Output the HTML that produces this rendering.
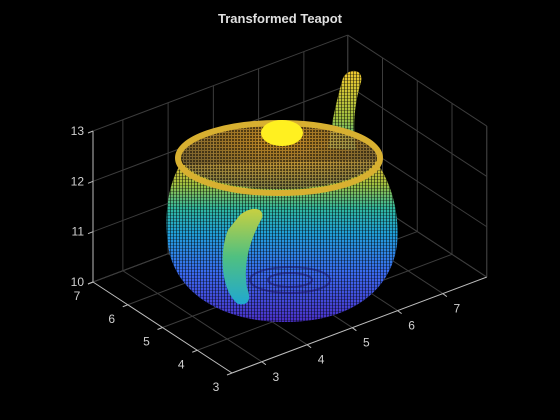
<!DOCTYPE html>
<html><head><meta charset="utf-8"><style>
html,body{margin:0;padding:0;background:#000;}
svg{display:block;font-family:"Liberation Sans",sans-serif;}
</style></head><body>
<svg id="chart" width="560" height="420" viewBox="0 0 560 420">
<defs>
<linearGradient id="bodyGrad" x1="0" y1="0" x2="0" y2="1">
<stop offset="0" stop-color="#e8b830"/><stop offset="0.15" stop-color="#a0c040"/>
<stop offset="0.3" stop-color="#30b8a0"/><stop offset="0.45" stop-color="#20a0d8"/>
<stop offset="0.7" stop-color="#3a6af0"/><stop offset="1" stop-color="#4a30c8"/>
</linearGradient>
<linearGradient id="handleGrad" x1="0" y1="0" x2="0" y2="1">
<stop offset="0" stop-color="#c8d040"/><stop offset="0.5" stop-color="#50c080"/><stop offset="1" stop-color="#20a8d0"/>
</linearGradient>
<linearGradient id="spoutGrad" x1="0" y1="0" x2="0" y2="1">
<stop offset="0" stop-color="#f0c830"/><stop offset="0.6" stop-color="#a0c040"/><stop offset="1" stop-color="#30b8a0"/>
</linearGradient>
<radialGradient id="lidGrad" cx="0.5" cy="0.25" r="0.7">
<stop offset="0" stop-color="#f0a828"/><stop offset="1" stop-color="#807040"/>
</radialGradient>
<pattern id="dots" width="3" height="3" patternUnits="userSpaceOnUse">
<rect x="2" y="0" width="1" height="3" fill="#000" opacity="0.5"/>
<rect x="0" y="2" width="3" height="1" fill="#000" opacity="0.3"/>
</pattern>
<pattern id="dots2" width="3" height="3" patternUnits="userSpaceOnUse">
<rect x="1" y="1" width="2" height="2" fill="#000" opacity="0.5"/>
</pattern>
</defs>
<text x="280" y="23" text-anchor="middle" font-size="13" font-weight="bold" fill="#e0e0e0">Transformed Teapot</text>
<g id="grid"></g>
<g id="axes"></g>
<g>
<path d="M328,148 C332,120 338,95 343,78 C348,68 364,68 361,82 C355,102 352,125 356,150 Z" fill="url(#spoutGrad)"/>
<path d="M328,148 C332,120 338,95 343,78 C348,68 364,68 361,82 C355,102 352,125 356,150 Z" fill="url(#dots)"/>
<path d="M180,165 C168,185 164,215 168,245 C175,295 225,322 285,322 C345,322 390,295 397,245 C400,210 390,180 375,160 Z" fill="url(#bodyGrad)"/>
<path d="M180,165 C168,185 164,215 168,245 C175,295 225,322 285,322 C345,322 390,295 397,245 C400,210 390,180 375,160 Z" fill="url(#dots)"/>
<ellipse cx="290" cy="280" rx="40" ry="13" fill="none" stroke="#1a1060" stroke-width="2" opacity="0.5"/>
<ellipse cx="290" cy="280" rx="22" ry="7" fill="none" stroke="#1a1060" stroke-width="2" opacity="0.5"/>
<ellipse cx="279" cy="156" rx="98" ry="33" fill="url(#lidGrad)" opacity="0.8"/>
<ellipse cx="279" cy="156" rx="98" ry="33" fill="url(#dots2)"/>
<ellipse cx="279" cy="158" rx="101" ry="35" fill="none" stroke="#d8b030" stroke-width="6"/>
<ellipse cx="282" cy="133" rx="21" ry="13" fill="#fff020"/>
<path d="M240,215 C252,205 265,208 262,218 C250,240 243,262 247,288 C252,300 248,306 238,304 C222,292 218,255 228,230 Z" fill="url(#handleGrad)"/>
</g>
<script>
const xTicks=[3,4,5,6,7];
const yTicks=[3,4,5,6,7];
const zTicks=[10,11,12,13];
const xMin=2.34,xMax=7.97,yMin=3,yMax=7,zMin=10,zMax=13;
function P(x,y,z){return [232+(x-xMin)*45.25+(y-yMin)*(-34.75), 373+(x-xMin)*(-17.04)+(y-yMin)*(-22.75)+(z-zMin)*(-50.33)];}
const NS="http://www.w3.org/2000/svg";
function line(g,a,b,c,w){const l=document.createElementNS(NS,'line');l.setAttribute('x1',a[0]);l.setAttribute('y1',a[1]);l.setAttribute('x2',b[0]);l.setAttribute('y2',b[1]);l.setAttribute('stroke',c);l.setAttribute('stroke-width',w||1);g.appendChild(l);return l;}
function txt(g,p,s,anchor){const t=document.createElementNS(NS,'text');t.setAttribute('x',p[0]);t.setAttribute('y',p[1]);t.setAttribute('text-anchor',anchor||'middle');t.setAttribute('font-size','12');t.setAttribute('fill','#d0d0d0');t.textContent=s;g.appendChild(t);return t;}
const grid=document.getElementById('grid'),axes=document.getElementById('axes');
const gc='#3c3c3c';
xTicks.forEach(x=>{
 const a=line(grid,P(x,yMin,zMin),P(x,yMax,zMin),gc);
 
 
 const b=line(grid,P(x,yMax,zMin),P(x,yMax,zMax),gc);
 
 
});
yTicks.forEach(y=>{
 const a=line(grid,P(xMin,y,zMin),P(xMax,y,zMin),gc);
 
 
 const b=line(grid,P(xMax,y,zMin),P(xMax,y,zMax),gc);
 
 
});
zTicks.forEach(z=>{
 const a=line(grid,P(xMin,yMax,z),P(xMax,yMax,z),gc);
 
 
 const b=line(grid,P(xMax,yMax,z),P(xMax,yMin,z),gc);
 
 
});
const ec='#bdbdbd';
[[P(xMin,yMin,zMin),P(xMax,yMin,zMin),'x-axis-line'],[P(xMin,yMin,zMin),P(xMin,yMax,zMin),'y-axis-line'],[P(xMin,yMax,zMin),P(xMin,yMax,zMax),'z-axis-line']].forEach(e=>{
 const l=line(axes,e[0],e[1],ec);
 
 
});
[[P(xMax,yMax,zMin),P(xMax,yMax,zMax)],[P(xMax,yMin,zMin),P(xMax,yMin,zMax)],[P(xMax,yMax,zMin),P(xMax,yMin,zMin)],[P(xMin,yMax,zMin),P(xMax,yMax,zMin)]].forEach(e=>{
 const l=line(grid,e[0],e[1],gc);
 
 
});
xTicks.forEach(x=>{
 const p=P(x,yMin,zMin);
 const l=line(axes,p,[p[0]+4,p[1]+3],ec);
 
 
 const t=txt(axes,[p[0]+14,p[1]+19],String(x));
 
 
});
yTicks.forEach(y=>{
 const p=P(xMin,y,zMin);
 const l=line(axes,p,[p[0]-5,p[1]+2],ec);
 
 
 const t=txt(axes,[p[0]-16,p[1]+18],String(y));
 
 
});
zTicks.forEach(z=>{
 const p=P(xMin,yMax,z);
 const l=line(axes,p,[p[0]-5,p[1]+2],ec);
 
 
 const t=txt(axes,[p[0]-9,p[1]+4],String(z),'end');
 
 
});
</script>
</svg>
</body></html>
